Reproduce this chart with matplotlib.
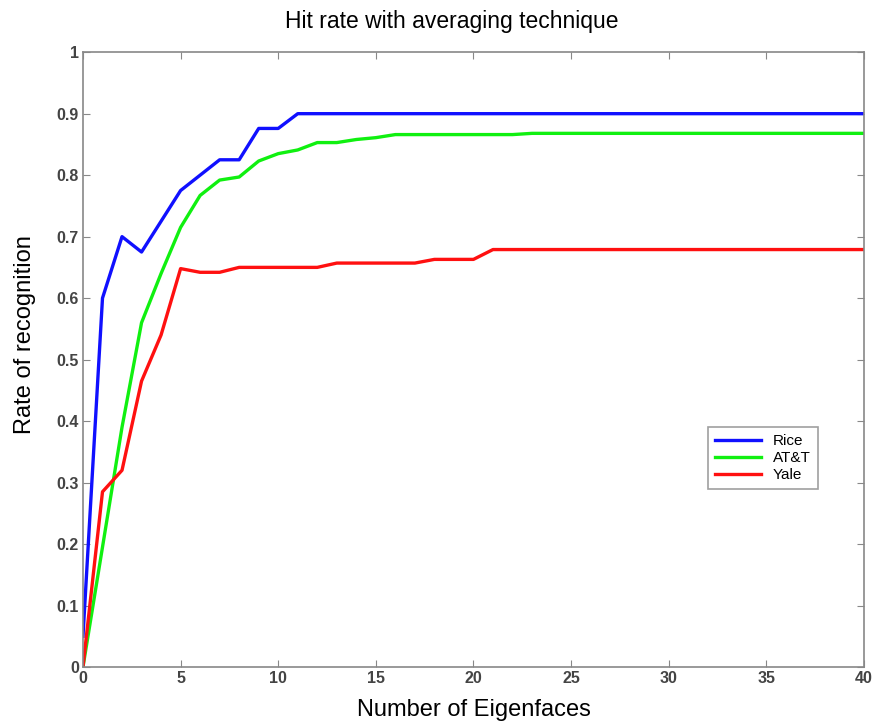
import matplotlib
matplotlib.use("Agg")
import matplotlib.pyplot as plt
import numpy as np

plt.rcParams['font.family'] = ['Liberation Sans', 'DejaVu Sans']

# eigenfaces 0..40
eigenfaces = list(range(41))

rice = [0.05, 0.60, 0.70, 0.675, 0.725, 0.775, 0.80, 0.825, 0.825, 0.876, 0.876] + [0.90] * 30
att = [0.0, 0.195, 0.39, 0.56, 0.64, 0.715, 0.767, 0.792, 0.797, 0.823, 0.835,
       0.841, 0.853, 0.853, 0.858, 0.861, 0.866, 0.866, 0.866, 0.866, 0.866,
       0.866, 0.866] + [0.868] * 18
yale = [0.0, 0.285, 0.32, 0.465, 0.54, 0.648, 0.642, 0.642, 0.65, 0.65, 0.65,
        0.65, 0.65, 0.657, 0.657, 0.657, 0.657, 0.657, 0.663, 0.663, 0.663] + [0.679] * 20

labels = ['Rice', 'AT&T', 'Yale']
colors = ['#1010ff', '#10f010', '#ff1010']
yticklabels = ['0', '0.1', '0.2', '0.3', '0.4', '0.5', '0.6', '0.7', '0.8', '0.9', '1']

fig = plt.figure(figsize=(8.78, 7.25), dpi=100)
ax = fig.add_axes([0.0945, 0.08, 0.8895, 0.848])

for series, lab, col in zip([rice, att, yale], labels, colors):
    ax.plot(eigenfaces, series, color=col, lw=2.4, label=lab)

ax.set_xlim(0, 40)
ax.set_ylim(0, 1)
ax.set_xticks(np.arange(0, 41, 5))
ax.set_yticks(np.arange(0, 1.01, 0.1))
ax.set_yticklabels(yticklabels)
ax.tick_params(direction='in', length=5, color='#888888', labelcolor='#444444',
               labelsize=11.5, top=True, right=True, pad=3)
for t in ax.get_xticklabels() + ax.get_yticklabels():
    t.set_fontweight('bold')
for s in ax.spines.values():
    s.set_color('#888888')
    s.set_linewidth(1.2)

ax.set_xlabel('Number of Eigenfaces', fontsize=17)
ax.set_ylabel('Rate of recognition', fontsize=17)
ax.xaxis.set_label_coords(0.5006, -0.052)
ax.yaxis.set_label_coords(-0.06, 0.54)
fig.text(0.514, 0.971, 'Hit rate with averaging technique', ha='center', va='center', fontsize=16.5)

leg = ax.legend(loc='upper right', bbox_to_anchor=(0.941, 0.39), fontsize=11,
                fancybox=False, edgecolor='#888888', handlelength=3.0,
                borderpad=0.45, labelspacing=0.2, borderaxespad=0)
leg.get_frame().set_linewidth(1.2)

fig.savefig('out.png', dpi=100)
